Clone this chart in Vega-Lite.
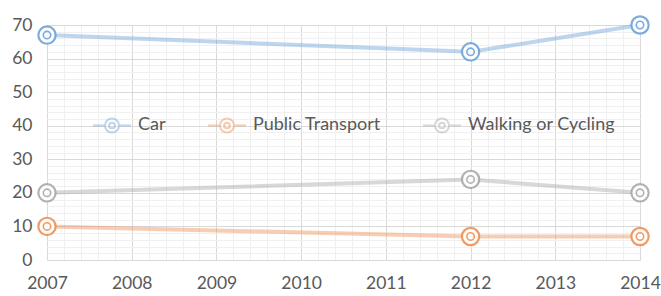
{
  "$schema": "https://vega.github.io/schema/vega-lite/v6.json",
  "width": 593,
  "height": 235,
  "autosize": "none",
  "padding": {"left": 47, "top": 25, "right": 21, "bottom": 36},
  "background": "white",
  "config": {
    "view": {"stroke": null},
    "font": "Lato",
    "axis": {"domain": false, "ticks": false, "labelFont": "Lato", "labelColor": "#595959", "labelFontSize": 17.5, "labelOverlap": false, "labelBound": false, "labelFlush": false, "title": null}
  },
  "data": {
    "values": [
      {"year": 2007, "value": 67, "series": "Car"},
      {"year": 2012, "value": 62, "series": "Car"},
      {"year": 2014, "value": 70, "series": "Car"},
      {"year": 2007, "value": 10, "series": "Public Transport"},
      {"year": 2012, "value": 7, "series": "Public Transport"},
      {"year": 2014, "value": 7, "series": "Public Transport"},
      {"year": 2007, "value": 20, "series": "Walking or Cycling"},
      {"year": 2012, "value": 24, "series": "Walking or Cycling"},
      {"year": 2014, "value": 20, "series": "Walking or Cycling"}
    ]
  },
  "encoding": {
    "x": {
      "field": "year", "type": "quantitative",
      "scale": {"domain": [2007, 2014], "nice": false, "zero": false},
      "axis": {
        "values": [2007, 2007.2, 2007.4, 2007.6, 2007.8, 2008, 2008.2, 2008.4, 2008.6, 2008.8, 2009, 2009.2, 2009.4, 2009.6, 2009.8, 2010, 2010.2, 2010.4, 2010.6, 2010.8, 2011, 2011.2, 2011.4, 2011.6, 2011.8, 2012, 2012.2, 2012.4, 2012.6, 2012.8, 2013, 2013.2, 2013.4, 2013.6, 2013.8, 2014],
        "labelExpr": "abs(datum.value - round(datum.value)) < 0.01 ? format(round(datum.value), 'd') : ''",
        "labelPadding": 14,
        "gridColor": {"condition": {"test": "abs(datum.value - round(datum.value)) < 0.01", "value": "#d9d9d9"}, "value": "#f0f0f0"}
      }
    },
    "y": {
      "field": "value", "type": "quantitative",
      "scale": {"domain": [0, 70], "nice": false},
      "axis": {
        "values": [0, 2, 4, 6, 8, 10, 12, 14, 16, 18, 20, 22, 24, 26, 28, 30, 32, 34, 36, 38, 40, 42, 44, 46, 48, 50, 52, 54, 56, 58, 60, 62, 64, 66, 68, 70],
        "labelExpr": "datum.value % 10 === 0 ? datum.label : ''",
        "labelPadding": 15,
        "gridColor": {"condition": {"test": "datum.value % 10 === 0", "value": "#d9d9d9"}, "value": "#f0f0f0"}
      }
    },
    "color": {
      "field": "series", "type": "nominal",
      "scale": {"domain": ["Car", "Public Transport", "Walking or Cycling"], "range": ["#6fa3d8", "#ee9256", "#a9a9a9"]},
      "legend": {
        "orient": "none", "direction": "horizontal", "legendX": 45, "legendY": 80, "title": null,
        "symbolType": "M-1,0L-0.37,0M0.37,0L1,0M0.37,0A0.37,0.37,0,1,1,-0.37,0A0.37,0.37,0,1,1,0.37,0M0.15,0A0.15,0.15,0,1,1,-0.15,0A0.15,0.15,0,1,1,0.15,0",
        "symbolSize": 1444, "symbolStrokeWidth": 2, "symbolFillColor": "white",
        "labelFont": "Lato", "labelFontSize": 18, "labelColor": "#595959", "labelOffset": 6, "columnPadding": 38
      }
    }
  },
  "layer": [
    {"mark": {"type": "line", "strokeWidth": 4, "opacity": 0.45}},
    {"mark": {"type": "circle", "filled": false, "fill": "white", "size": 300, "strokeWidth": 2.2, "opacity": 0.9}},
    {"mark": {"type": "circle", "filled": false, "size": 55, "strokeWidth": 1.6, "opacity": 0.9}}
  ]
}
